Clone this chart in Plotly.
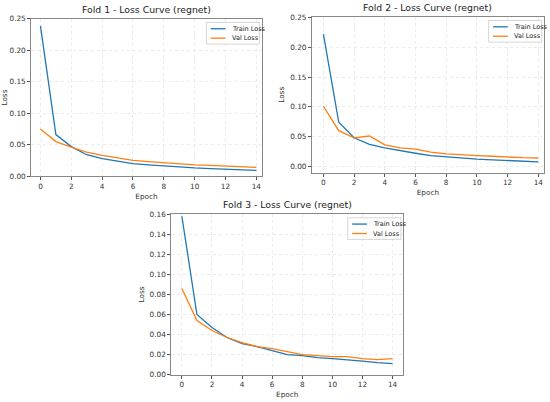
import plotly.graph_objects as go

epochs = list(range(15))

fold1_train = [0.239, 0.066, 0.047, 0.034, 0.028, 0.024, 0.020, 0.018, 0.016, 0.0145, 0.013, 0.012, 0.011, 0.010, 0.009]
fold1_val = [0.075, 0.055, 0.046, 0.038, 0.033, 0.029, 0.025, 0.023, 0.021, 0.019, 0.018, 0.017, 0.016, 0.015, 0.014]

fold2_train = [0.222, 0.074, 0.048, 0.037, 0.031, 0.026, 0.022, 0.018, 0.016, 0.013, 0.012, 0.011, 0.0095, 0.0085, 0.0075]
fold2_val = [0.101, 0.060, 0.048, 0.051, 0.036, 0.031, 0.029, 0.024, 0.021, 0.019, 0.018, 0.017, 0.0155, 0.0145, 0.014]

fold3_train = [0.158, 0.060, 0.047, 0.037, 0.031, 0.028, 0.024, 0.020, 0.019, 0.017, 0.016, 0.015, 0.0135, 0.012, 0.011]
fold3_val = [0.086, 0.054, 0.044, 0.037, 0.032, 0.028, 0.026, 0.023, 0.020, 0.019, 0.018, 0.018, 0.016, 0.015, 0.016]

folds = [
    ("Fold 1 - Loss Curve (regnet)", fold1_train, fold1_val),
    ("Fold 2 - Loss Curve (regnet)", fold2_train, fold2_val),
    ("Fold 3 - Loss Curve (regnet)", fold3_train, fold3_val),
]

BLUE = "#1f77b4"
ORANGE = "#ff7f0e"
FONT = "DejaVu Sans"

# panel geometry in paper coords: x domain, y domain, x range, y range, y ticks
panels = [
    ([0.0533, 0.474], [0.562, 0.962], [-0.6, 14.35], [0, 0.25], [0, 0.05, 0.10, 0.15, 0.20, 0.25]),
    ([0.5655, 0.989], [0.571, 0.967], [-0.75, 14.37], [-0.0105, 0.251], [0, 0.05, 0.10, 0.15, 0.20, 0.25]),
    ([0.309, 0.732], [0.057, 0.465], [-0.7, 14.7], [0, 0.16], [0, 0.02, 0.04, 0.06, 0.08, 0.10, 0.12, 0.14, 0.16]),
]

fig = go.Figure()
layout = dict(
    width=550, height=402,
    margin=dict(l=0, r=0, t=0, b=0),
    paper_bgcolor="white", plot_bgcolor="white",
    font=dict(family=FONT, size=7, color="#333"),
    showlegend=False,
    annotations=[],
    shapes=[],
)

for i, (title, train, val) in enumerate(folds):
    n = i + 1
    xa = "x" if n == 1 else f"x{n}"
    ya = "y" if n == 1 else f"y{n}"
    xdom, ydom, xr, yr, yt = panels[i]
    fig.add_trace(go.Scatter(x=epochs, y=train, mode="lines", name="Train Loss",
                             line=dict(color=BLUE, width=1.3), xaxis=xa, yaxis=ya))
    fig.add_trace(go.Scatter(x=epochs, y=val, mode="lines", name="Val Loss",
                             line=dict(color=ORANGE, width=1.3), xaxis=xa, yaxis=ya))
    axis_common = dict(showline=True, mirror=True, linecolor="#888", linewidth=1,
                       ticks="outside", ticklen=3, tickcolor="#555",
                       showgrid=True, gridcolor="#ebebeb", griddash="dot", gridwidth=0.8,
                       zeroline=False, tickfont=dict(size=7.3, color="#333"))
    layout[f"xaxis{'' if n == 1 else n}"] = dict(
        axis_common, domain=xdom, range=xr, anchor=ya,
        tickvals=list(range(0, 15, 2)),
        title=dict(text="Epoch", font=dict(size=7.3), standoff=3))
    layout[f"yaxis{'' if n == 1 else n}"] = dict(
        axis_common, domain=ydom, range=yr, anchor=xa,
        tickvals=yt, tickformat=".2f",
        title=dict(text="Loss", font=dict(size=7.3), standoff=4))
    # title
    layout["annotations"].append(dict(
        text=title, xref="paper", yref="paper",
        x=(xdom[0] + xdom[1]) / 2, y=ydom[1] + 0.006,
        xanchor="center", yanchor="bottom", showarrow=False,
        font=dict(size=9.3, family=FONT, color="#222")))
    # legend box (drawn per panel)
    x1 = xdom[1] - 0.004
    x0 = x1 - 0.097
    y1 = ydom[1] - 0.009
    y0 = y1 - 0.055
    layout["shapes"].append(dict(type="rect", xref="paper", yref="paper",
                                 x0=x0, x1=x1, y0=y0, y1=y1,
                                 line=dict(color="#ccc", width=0.8), fillcolor="white"))
    for j, (lab, col) in enumerate([("Train Loss", BLUE), ("Val Loss", ORANGE)]):
        yy = y1 - 0.016 - j * 0.024
        layout["shapes"].append(dict(type="line", xref="paper", yref="paper",
                                     x0=x0 + 0.008, x1=x0 + 0.035, y0=yy, y1=yy,
                                     line=dict(color=col, width=1.3)))
        layout["annotations"].append(dict(
            text=lab, xref="paper", yref="paper", x=x0 + 0.043, y=yy,
            xanchor="left", yanchor="middle", showarrow=False,
            font=dict(size=6.5, family=FONT, color="#222")))

fig.update_layout(**layout)
fig.write_html("out.html", config={"displayModeBar": False},
               post_script="document.body.style.margin='0';")
